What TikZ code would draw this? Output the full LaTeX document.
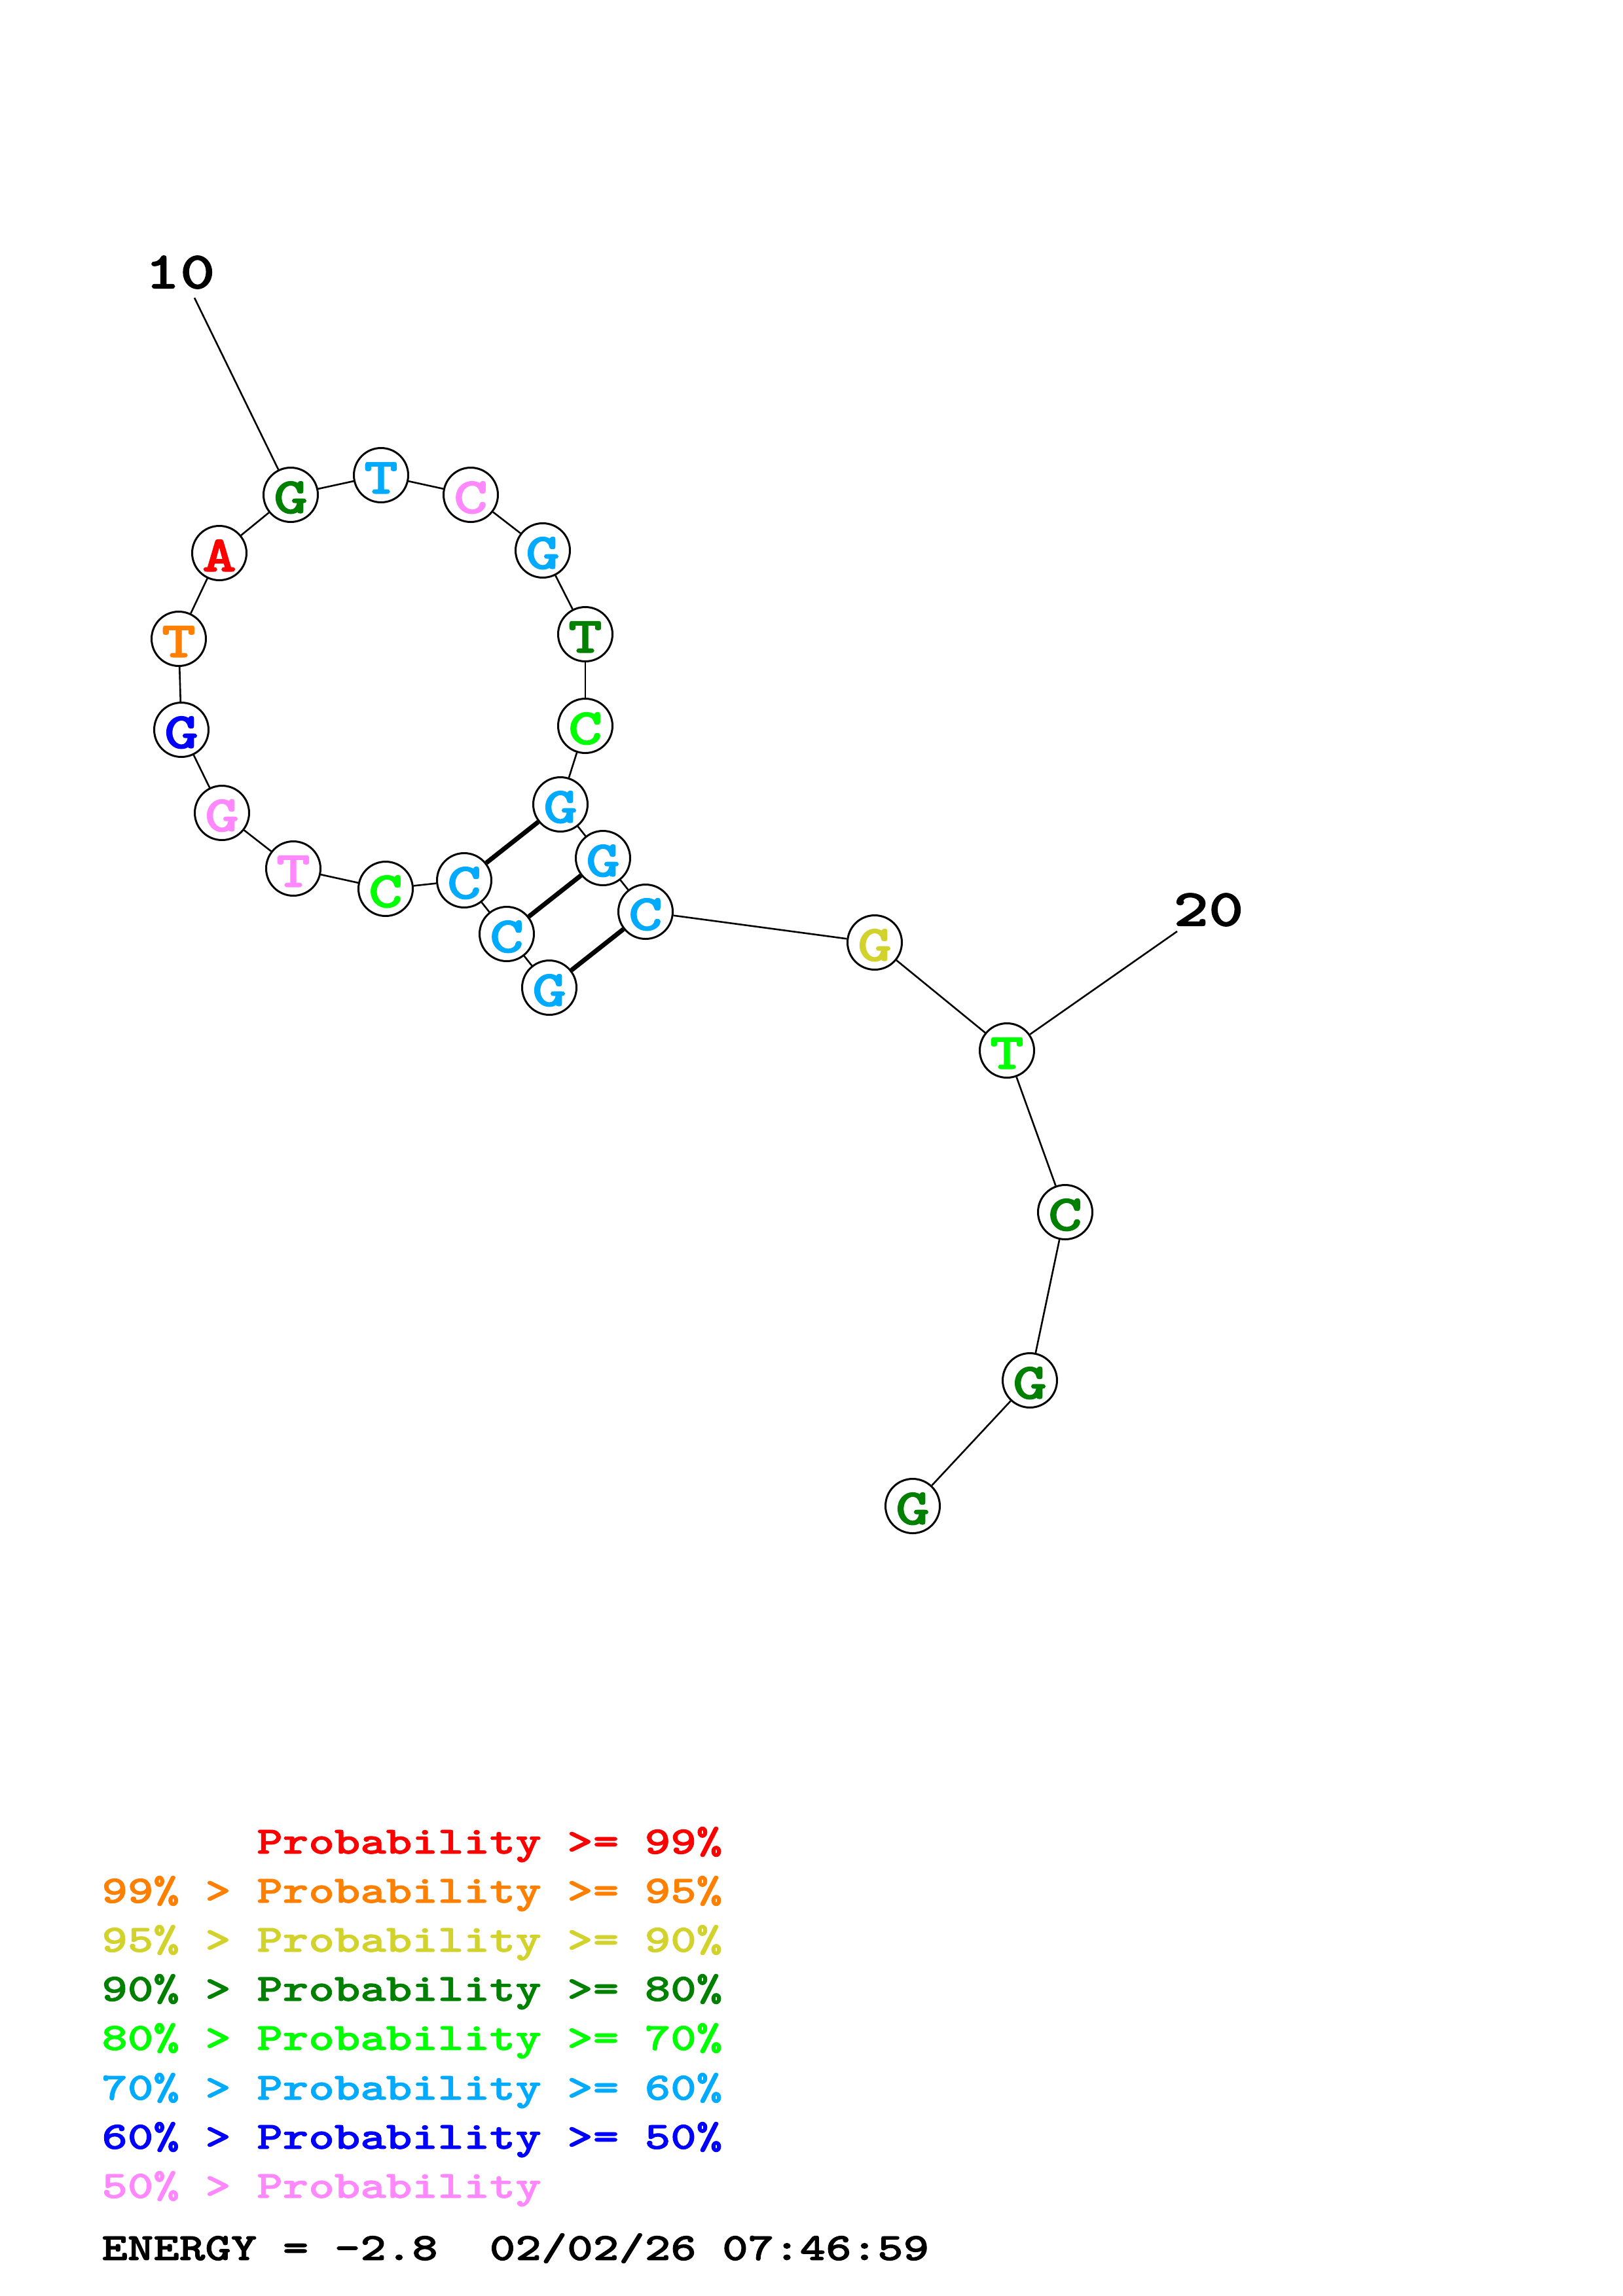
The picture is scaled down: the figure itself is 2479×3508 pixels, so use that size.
\documentclass[tikz,border=0pt]{standalone}
\usepackage{fontspec}
\newfontfamily\cour{lmmonolt10-bold.otf}[FakeStretch=1.275,FakeBold=1.5]
\definecolor{cred}{HTML}{FF0000}
\definecolor{corange}{HTML}{FF8000}
\definecolor{cyellow}{HTML}{D2D22C}
\definecolor{cdgreen}{HTML}{008000}
\definecolor{cgreen}{HTML}{00FF00}
\definecolor{csky}{HTML}{00AAFF}
\definecolor{cblue}{HTML}{0000FF}
\definecolor{cpink}{HTML}{FF88FF}
\begin{document}
\begin{tikzpicture}[x=0.5pt,y=-0.5pt,
  nt/.style={circle,draw=black,line width=1.5pt,fill=white,minimum size=41.5pt,inner sep=0pt,
    font=\cour\fontsize{39pt}{39pt}\selectfont,text height=28pt,text depth=0pt},
  bb/.style={line width=1.3pt,black},
  bp/.style={line width=3.5pt,black},
  numlab/.style={inner sep=0pt,font=\cour\fontsize{40pt}{40pt}\selectfont},
  leg/.style={anchor=base west,inner sep=0pt,font=\cour\fontsize{29.5pt}{29.5pt}\selectfont}]
\useasboundingbox (0,0) rectangle (2479,3508);
% nucleotides
\node[nt,text=csky]    (n1)  at (839,1509) {G};
\node[nt,text=csky]    (n2)  at (774,1427) {C};
\node[nt,text=csky]    (n3)  at (709,1345) {C};
\node[nt,text=cgreen]  (n4)  at (589,1358) {C};
\node[nt,text=cpink]   (n5)  at (448,1327) {T};
\node[nt,text=cpink]   (n6)  at (339,1242) {G};
\node[nt,text=cblue]   (n7)  at (277,1115) {G};
\node[nt,text=corange] (n8)  at (273,976)  {T};
\node[nt,text=cred]    (n9)  at (335,845)  {A};
\node[nt,text=cdgreen] (n10) at (444,756)  {G};
\node[nt,text=csky]    (n11) at (582,726)  {T};
\node[nt,text=cpink]   (n12) at (719,756)  {C};
\node[nt,text=csky]    (n13) at (829,841)  {G};
\node[nt,text=cdgreen] (n14) at (894,969)  {T};
\node[nt,text=cgreen]  (n15) at (894,1109) {C};
\node[nt,text=csky]    (n16) at (856,1229) {G};
\node[nt,text=csky]    (n17) at (921,1311) {G};
\node[nt,text=csky]    (n18) at (986,1393) {C};
\node[nt,text=cyellow] (n19) at (1336,1440) {G};
\node[nt,text=cgreen]  (n20) at (1538,1605) {T};
\node[nt,text=cdgreen] (n21) at (1627,1852) {C};
\node[nt,text=cdgreen] (n22) at (1573,2109) {G};
\node[nt,text=cdgreen] (n23) at (1394,2301) {G};
% position labels
\node[numlab] (lab10) at (275,416) {10};
\node[numlab] (lab20) at (1846,1390) {20};
\coordinate (e10) at (297,455);
\coordinate (e20) at (1798,1423);
% backbone
\foreach \a/\b in {n1/n2,n2/n3,n3/n4,n4/n5,n5/n6,n6/n7,n7/n8,n8/n9,n9/n10,n10/n11,n11/n12,n12/n13,n13/n14,n14/n15,n15/n16,n16/n17,n17/n18,n18/n19,n19/n20,n20/n21,n21/n22,n22/n23}
  \draw[bb] (\a) -- (\b);
\draw[bb] (e10) -- (n10);
\draw[bb] (e20) -- (n20);
% base pairs
\draw[bp] (n1) -- (n18);
\draw[bp] (n2) -- (n17);
\draw[bp] (n3) -- (n16);
% legend
\node[leg,text=cred]    (l1) at (155,2832) {\phantom{99\% >} Probability >= 99\%};
\node[leg,text=corange] (l2) at (155,2907) {99\% > Probability >= 95\%};
\node[leg,text=cyellow] (l3) at (155,2982) {95\% > Probability >= 90\%};
\node[leg,text=cdgreen] (l4) at (155,3057) {90\% > Probability >= 80\%};
\node[leg,text=cgreen]  (l5) at (155,3132) {80\% > Probability >= 70\%};
\node[leg,text=csky]    (l6) at (155,3208) {70\% > Probability >= 60\%};
\node[leg,text=cblue]   (l7) at (155,3283) {60\% > Probability >= 50\%};
\node[leg,text=cpink]   (l8) at (155,3358) {50\% > Probability};
\node[leg,text=black]   (en) at (155,3453) {ENERGY = -2.8~~02/02/26 07:46:59};
\end{tikzpicture}
\end{document}
